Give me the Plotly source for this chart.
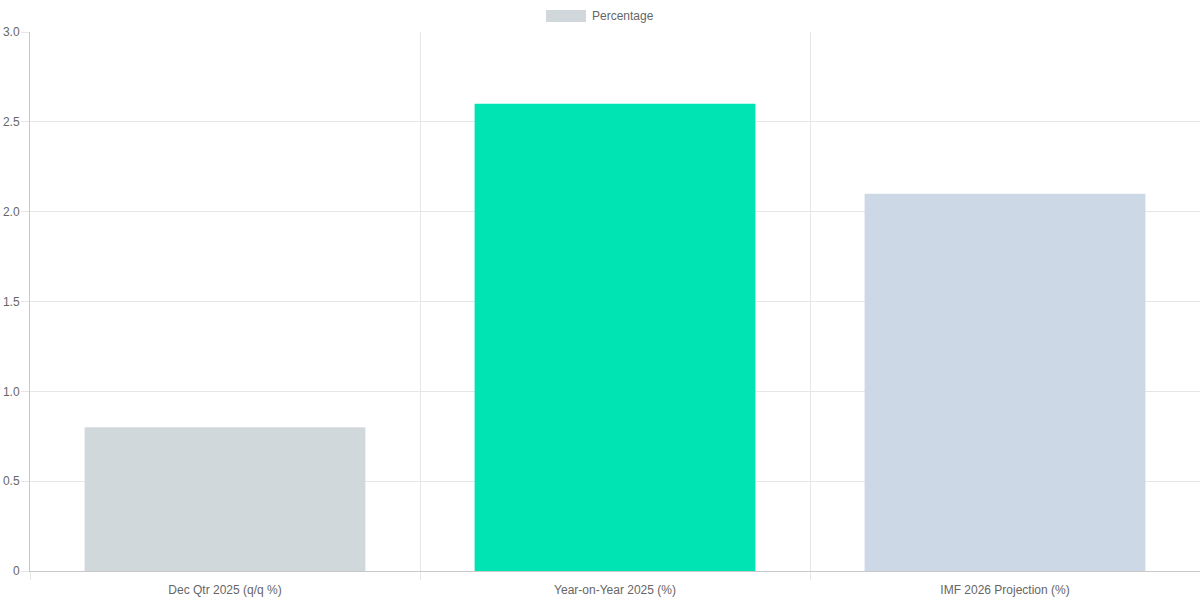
import plotly.graph_objects as go

categories = ["Dec Qtr 2025 (q/q %)", "Year-on-Year 2025 (%)", "IMF 2026 Projection (%)"]
values = [0.8, 2.6, 2.1]
bar_colors = ["#d1d8dc", "#00e3b2", "#cdd8e6"]
y_ticks = [0, 0.5, 1.0, 1.5, 2.0, 2.5, 3.0]
y_tick_labels = ["0", "0.5", "1.0", "1.5", "2.0", "2.5", "3.0"]

fig = go.Figure()
fig.add_trace(go.Bar(
    x=categories, y=values, name="Percentage",
    marker=dict(color=bar_colors, line=dict(width=0)),
    width=0.72, showlegend=False,
))

# legend drawn like chart.js: wide box + label
fig.add_shape(type="rect", xref="paper", yref="paper",
              x0=(546 - 30) / 1170, x1=(586 - 30) / 1170,
              y0=1 + (32 - 22) / 539, y1=1 + (32 - 10) / 539,
              fillcolor=bar_colors[0], line=dict(width=0))
fig.add_annotation(text="Percentage", xref="paper", yref="paper",
                   x=(590 - 30) / 1170, y=1 + (32 - 16) / 539,
                   xanchor="left", yanchor="middle", showarrow=False,
                   font=dict(size=12, color="#666666"))

fig.update_layout(
    width=1200, height=600,
    margin=dict(l=30, r=0, t=32, b=29),
    plot_bgcolor="white", paper_bgcolor="white",
    font=dict(family="Liberation Sans, Arial, sans-serif", size=12, color="#666666"),
)
fig.update_xaxes(
    type="category", range=[-0.5, 2.5], tickson="boundaries",
    showgrid=True, gridcolor="#e6e6e6", gridwidth=1,
    ticks="outside", ticklen=8, tickcolor="#e6e6e6",
    showline=True, linecolor="#c8c8c8", linewidth=1,
    ticklabelstandoff=8, tickfont=dict(color="#666666"),
)
fig.update_yaxes(
    range=[0, 3], tickvals=y_ticks, ticktext=y_tick_labels,
    showgrid=True, gridcolor="#e6e6e6", gridwidth=1,
    ticks="outside", ticklen=8, tickcolor="#e6e6e6",
    showline=True, linecolor="#c8c8c8", linewidth=1,
    zeroline=False, ticklabelstandoff=-1, tickfont=dict(color="#666666"),
)

fig.write_html("out.html", config={"displayModeBar": False},
               post_script="document.body.style.margin='0';")
